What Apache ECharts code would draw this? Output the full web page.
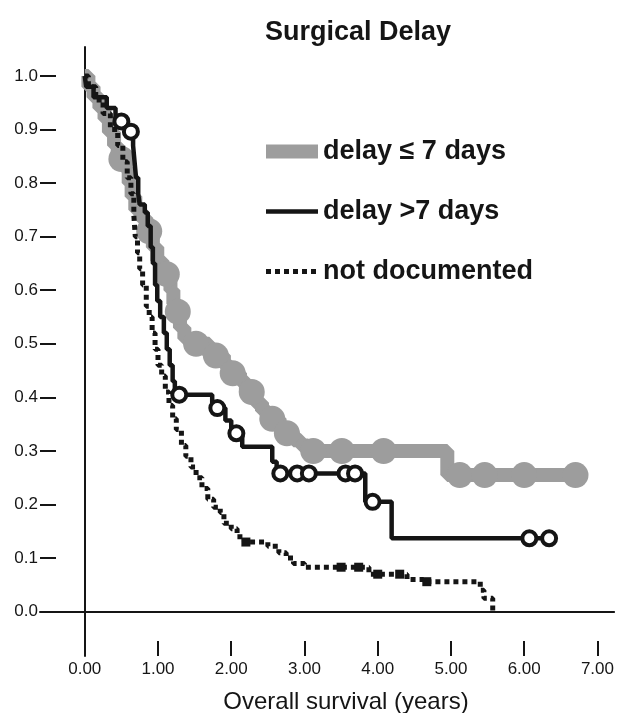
<!DOCTYPE html>
<html lang="en">
<head>
<meta charset="UTF-8">
<title>Surgical Delay</title>
<script src="https://cdn.jsdelivr.net/npm/echarts@6/dist/echarts.min.js"></script>
<style>
    * { margin: 0; padding: 0; }
    body { background: #fff; }
    #chart { width: 617px; height: 713px; }
</style>
</head>
<body>
<div id="chart"></div>
<script>
    // survival curves, [years, proportion surviving] after each step
    var shortDelay = [
        [0, 1.0], [0.05, 0.98], [0.12, 0.96], [0.2, 0.94], [0.27, 0.92], [0.33, 0.895],
        [0.4, 0.87], [0.45, 0.845], [0.56, 0.825], [0.6, 0.80], [0.64, 0.775], [0.69, 0.75],
        [0.76, 0.735], [0.84, 0.71], [0.93, 0.68], [0.99, 0.655], [1.06, 0.63], [1.17, 0.60],
        [1.21, 0.575], [1.25, 0.56], [1.3, 0.53], [1.36, 0.51], [1.45, 0.50], [1.7, 0.478],
        [1.9, 0.46], [1.98, 0.445], [2.12, 0.43], [2.2, 0.41], [2.33, 0.39], [2.42, 0.375],
        [2.5, 0.36], [2.66, 0.345], [2.72, 0.333], [2.85, 0.32], [2.95, 0.31], [3.05, 0.30],
        [4.95, 0.255], [6.7, 0.255]
    ];
    var shortDelayCensored = [
        [0.5, 0.845], [0.88, 0.71], [1.12, 0.63], [1.27, 0.56], [1.52, 0.50], [1.79, 0.478],
        [2.02, 0.445], [2.28, 0.41], [2.56, 0.36], [2.76, 0.333], [3.12, 0.30], [3.51, 0.30],
        [4.08, 0.30], [5.12, 0.255], [5.46, 0.255], [6.0, 0.255], [6.7, 0.255]
    ];

    var longDelay = [
        [0, 1.0], [0.02, 0.98], [0.12, 0.96], [0.3, 0.94], [0.42, 0.915], [0.58, 0.896],
        [0.66, 0.87], [0.68, 0.84], [0.70, 0.81], [0.73, 0.78], [0.75, 0.76], [0.82, 0.745],
        [0.86, 0.72], [0.9, 0.68], [0.93, 0.65], [0.96, 0.61], [0.99, 0.58], [1.03, 0.55],
        [1.08, 0.52], [1.12, 0.49], [1.16, 0.46], [1.2, 0.43], [1.23, 0.405], [1.74, 0.38],
        [1.92, 0.357], [2.0, 0.333], [2.15, 0.308], [2.56, 0.28], [2.62, 0.258], [3.83, 0.205],
        [4.19, 0.137], [6.34, 0.137]
    ];
    var longDelayCensored = [
        [0.5, 0.915], [0.63, 0.896], [1.29, 0.405], [1.81, 0.38], [2.07, 0.333], [2.67, 0.258],
        [2.9, 0.258], [3.06, 0.258], [3.56, 0.258], [3.69, 0.258], [3.93, 0.205], [6.07, 0.137],
        [6.34, 0.137]
    ];

    var notDocumented = [
        [0, 1.0], [0.05, 0.98], [0.15, 0.955], [0.25, 0.93], [0.35, 0.9], [0.45, 0.87],
        [0.52, 0.84], [0.58, 0.81], [0.63, 0.78], [0.67, 0.74], [0.69, 0.70], [0.72, 0.67],
        [0.75, 0.64], [0.79, 0.61], [0.84, 0.57], [0.88, 0.55], [0.92, 0.52], [0.96, 0.49],
        [1.0, 0.46], [1.05, 0.44], [1.1, 0.41], [1.15, 0.385], [1.2, 0.36], [1.25, 0.34],
        [1.32, 0.31], [1.38, 0.29], [1.45, 0.27], [1.52, 0.25], [1.6, 0.23], [1.68, 0.21],
        [1.76, 0.195], [1.85, 0.185], [1.9, 0.165], [2.0, 0.155], [2.08, 0.14], [2.18, 0.13],
        [2.5, 0.122], [2.65, 0.11], [2.75, 0.10], [2.85, 0.09], [3.0, 0.083], [3.88, 0.07],
        [4.4, 0.06], [4.62, 0.056], [5.4, 0.04], [5.45, 0.025], [5.57, 0.0]
    ];
    var notDocumentedCensored = [
        [2.2, 0.13], [3.5, 0.083], [3.74, 0.083], [4.0, 0.07], [4.3, 0.07], [4.67, 0.056]
    ];

    var seriesNames = ['delay \u2264 7 days', 'delay >7 days', 'not documented'];
    var yTicks = [0, 0.1, 0.2, 0.3, 0.4, 0.5, 0.6, 0.7, 0.8, 0.9, 1.0];
    var xLabels = [0, 1, 2, 3, 4, 5, 6, 7];
    var xTicks = [1, 2, 3, 4, 5, 6, 7];

    var ink = '#151515';
    var grey = '#9d9d9d';
    var font = 'Liberation Sans, Arial, Helvetica, sans-serif';
    var dots = [5, 4];

    var chart = echarts.init(document.getElementById('chart'));

    var option = {
        animation: false,
        backgroundColor: '#fff',
        title: [{
            text: 'Surgical Delay',
            left: 353,
            top: 14,
            textAlign: 'center',
            textStyle: { fontFamily: font, fontSize: 27, fontWeight: 'bold', color: ink }
        }, {
            text: 'Overall survival (years)',
            left: 341,
            top: 685,
            textAlign: 'center',
            textStyle: { fontFamily: font, fontSize: 24, fontWeight: 'normal', color: ink }
        }],
        legend: {
            orient: 'vertical',
            left: 259,
            top: 138,
            padding: 0,
            itemWidth: 52,
            itemHeight: 14,
            itemGap: 33,
            itemStyle: { opacity: 0 },
            textStyle: { fontFamily: font, fontSize: 27, fontWeight: 'bold', color: ink },
            data: [
                { name: seriesNames[0], lineStyle: { width: 14, color: grey } },
                { name: seriesNames[1], lineStyle: { width: 4.5, color: ink } },
                { name: seriesNames[2], lineStyle: { width: 5, color: ink, type: dots } }
            ]
        },
        grid: { left: 40, right: 0, top: 47, bottom: 57 },
        xAxis: [{
            type: 'value',
            min: -0.611,
            max: 7.228,
            position: 'bottom',
            axisLine: { onZero: true, lineStyle: { color: ink, width: 2 } },
            axisTick: { show: false },
            axisLabel: { show: false },
            splitLine: { show: false }
        }, {
            type: 'value',
            min: -0.611,
            max: 7.228,
            position: 'bottom',
            axisLine: { show: false, onZero: false },
            axisTick: {
                show: true, inside: true, length: 15,
                customValues: xTicks,
                lineStyle: { color: ink, width: 2 }
            },
            axisLabel: {
                customValues: xLabels,
                margin: 5,
                fontFamily: font,
                fontSize: 17,
                color: ink,
                formatter: function (v) { return v.toFixed(2); }
            },
            splitLine: { show: false }
        }],
        yAxis: [{
            type: 'value',
            min: -0.0827,
            max: 1.054,
            position: 'left',
            axisLine: { show: false, onZero: false },
            axisTick: {
                show: true, inside: true, length: 16,
                customValues: yTicks,
                lineStyle: { color: ink, width: 2 }
            },
            axisLabel: {
                customValues: yTicks,
                margin: 2,
                fontFamily: font,
                fontSize: 17,
                color: ink,
                formatter: function (v) { return v.toFixed(1); }
            },
            splitLine: { show: false }
        }, {
            type: 'value',
            min: -0.0827,
            max: 1.054,
            position: 'left',
            axisLine: { show: true, onZero: true, lineStyle: { color: ink, width: 2 } },
            axisTick: { show: false },
            axisLabel: { show: false },
            splitLine: { show: false }
        }],
        series: [{
            name: seriesNames[0],
            type: 'line',
            step: 'end',
            symbol: 'none',
            color: grey,
            lineStyle: { color: grey, width: 14 },
            data: shortDelay,
            z: 2
        }, {
            name: seriesNames[0],
            type: 'scatter',
            symbol: 'circle',
            symbolSize: 26,
            itemStyle: { color: grey, opacity: 1 },
            data: shortDelayCensored,
            z: 2
        }, {
            name: seriesNames[2],
            type: 'line',
            step: 'end',
            symbol: 'none',
            color: ink,
            lineStyle: { color: ink, width: 5, type: dots, cap: 'butt' },
            data: notDocumented,
            z: 3
        }, {
            name: seriesNames[2],
            type: 'scatter',
            symbol: 'rect',
            symbolSize: 9,
            itemStyle: { color: ink, opacity: 1 },
            data: notDocumentedCensored,
            z: 3
        }, {
            name: seriesNames[1],
            type: 'line',
            step: 'end',
            symbol: 'none',
            color: ink,
            lineStyle: { color: ink, width: 4.5 },
            data: longDelay,
            z: 4
        }, {
            name: seriesNames[1],
            type: 'scatter',
            symbol: 'circle',
            symbolSize: 14,
            itemStyle: { color: '#fff', borderColor: ink, borderWidth: 4, opacity: 1 },
            data: longDelayCensored,
            z: 5
        }]
    };
    chart.setOption(option);
</script>
</body>
</html>
